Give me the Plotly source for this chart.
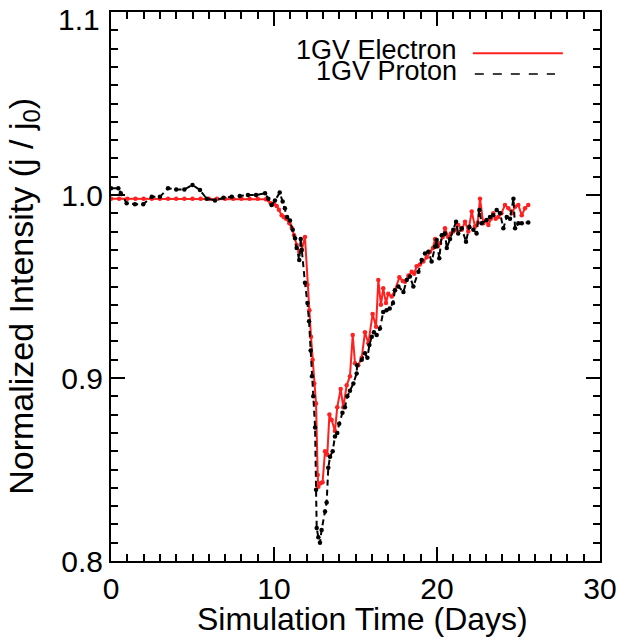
import plotly.graph_objects as go

# ---- data ----
electron_t = [0, 0.5, 1, 1.5, 2, 2.5, 3, 3.5, 4, 4.5, 5, 5.5, 6, 6.5, 7, 7.5, 8, 8.5, 9, 9.5,
              9.8, 10.0, 10.17, 10.3, 10.47, 10.6, 10.74, 10.94, 11.09, 11.23, 11.39, 11.55, 11.7,
              11.9, 12.05, 12.17, 12.27, 12.37, 12.47, 12.58, 12.68, 12.72, 12.86, 12.98, 13.13,
              13.27, 13.4, 13.54, 13.74, 13.88, 14.09, 14.25, 14.46, 14.66, 14.83, 14.97, 15.17,
              15.38, 15.58, 15.79, 16.05, 16.26, 16.4, 16.56, 16.7, 16.87, 17.01, 17.22, 17.42,
              17.69, 17.9, 18.04, 18.25, 18.45, 18.6, 18.75, 18.95, 19.16, 19.37, 19.57, 19.75,
              19.88, 20.05, 20.18, 20.35, 20.49, 20.69, 20.85, 21.0, 21.15, 21.3, 21.52, 21.72,
              21.92, 22.13, 22.33, 22.5, 22.64, 22.84, 23.0, 23.15, 23.3, 23.45, 23.6, 23.76,
              23.95, 24.17, 24.38, 24.59, 24.79, 24.99, 25.2, 25.4, 25.6]
electron_j = [0.998] * 19 + [0.9977,
              0.9955, 0.995, 0.994, 0.992, 0.989, 0.988, 0.987, 0.9845, 0.982, 0.978, 0.9727, 0.969, 0.970,
              0.977, 0.951, 0.937, 0.9226, 0.910, 0.897, 0.886, 0.847, 0.8406, 0.8425, 0.843, 0.860,
              0.858, 0.880, 0.877, 0.871, 0.884, 0.894, 0.884, 0.896, 0.901, 0.9235, 0.908, 0.907,
              0.911, 0.925, 0.919, 0.935, 0.928, 0.9535, 0.940, 0.949, 0.941, 0.946, 0.9445, 0.948,
              0.955, 0.953, 0.9526, 0.956, 0.958, 0.957, 0.961, 0.962, 0.9636, 0.966, 0.969, 0.971,
              0.976, 0.972, 0.9736, 0.977, 0.9818, 0.977, 0.979, 0.980, 0.981, 0.9836, 0.981, 0.9854,
              0.980, 0.991, 0.9827, 0.985, 0.998, 0.9845, 0.986, 0.9836, 0.987, 0.990, 0.987, 0.988,
              0.990, 0.9945, 0.9927, 0.990, 0.9936, 0.9945, 0.989, 0.9927, 0.9945]

proton_t = [0.0, 0.45, 0.6, 0.96, 1.47, 1.98, 2.5, 3.0, 3.5, 4.0, 4.5, 5.0, 5.46, 5.87, 6.38, 6.9,
            7.4, 7.9, 8.4, 8.9, 9.45, 9.65, 9.85, 10.06, 10.35, 10.53, 10.67, 10.8, 10.98, 11.15,
            11.29, 11.39, 11.55, 11.64, 11.7, 11.9, 12.05, 12.15, 12.25, 12.33, 12.41, 12.52, 12.58,
            12.62, 12.72, 12.82, 12.92, 13.13, 13.23, 13.33, 13.44, 13.6, 13.74, 13.88, 14.0, 14.2,
            14.35, 14.5, 14.66, 14.87, 15.07, 15.1, 15.38, 15.58, 15.73, 15.85, 16.0, 16.13, 16.3,
            16.5, 16.7, 16.9, 17.1, 17.3, 17.42, 17.63, 17.94, 18.14, 18.34, 18.55, 18.86, 19.06,
            19.26, 19.47, 19.67, 19.88, 19.98, 20.14, 20.29, 20.49, 20.6, 20.8, 21.0, 21.17, 21.3,
            21.52, 21.78, 21.98, 22.23, 22.43, 22.6, 22.74, 23.05, 23.25, 23.45, 23.66, 23.87,
            24.07, 24.28, 24.48, 24.69, 24.79, 24.99, 25.2, 25.6]
proton_j = [1.0037, 1.0037, 1.001, 0.9955, 0.995, 0.995, 0.999, 0.999, 1.0037, 1.003, 1.003, 1.0055,
            1.0027, 0.998, 0.997, 0.9985, 0.999, 0.9995, 1.0, 1.0, 1.001, 0.998, 0.9945, 0.997,
            1.0013, 0.9964, 0.9927, 0.988, 0.986, 0.981, 0.9763, 0.971, 0.9645, 0.976, 0.970, 0.952,
            0.941, 0.931, 0.915, 0.901, 0.890, 0.873, 0.839, 0.818, 0.813, 0.810, 0.817, 0.827,
            0.832, 0.851, 0.857, 0.860, 0.868, 0.870, 0.875, 0.881, 0.884, 0.890, 0.893, 0.897,
            0.9025, 0.907, 0.910, 0.9135, 0.911, 0.918, 0.9226, 0.925, 0.9235, 0.927, 0.936, 0.937,
            0.938, 0.941, 0.948, 0.950, 0.947, 0.9535, 0.9554, 0.950, 0.958, 0.9645, 0.968, 0.969,
            0.9636, 0.9717, 0.9754, 0.9654, 0.978, 0.979, 0.971, 0.976, 0.981, 0.9854, 0.979,
            0.9818, 0.9745, 0.9827, 0.981, 0.979, 0.9918, 0.9845, 0.9863, 0.988, 0.989, 0.9918,
            0.990, 0.9818, 0.988, 0.987, 0.998, 0.9818, 0.9845, 0.9845, 0.985]

x_ticks = [0, 10, 20, 30]
y_ticks = [0.8, 0.9, 1.0, 1.1]
series_names = ["1GV Electron", "1GV Proton"]
x_title = "Simulation Time (Days)"
y_title = "Normalized Intensity (j / j<sub>0</sub>)"

FONT = "Liberation Sans, Arial, sans-serif"
RED = "#ff2020"

fig = go.Figure()
fig.add_trace(go.Scatter(x=electron_t, y=electron_j, mode="lines+markers", name=series_names[0],
                         line=dict(color=RED, width=2),
                         marker=dict(color=RED, size=4.5), showlegend=False))
fig.add_trace(go.Scatter(x=proton_t, y=proton_j, mode="lines+markers", name=series_names[1],
                         line=dict(color="black", width=2, dash="6px,4px"),
                         marker=dict(color="black", size=4.5), showlegend=False))

# legend (text left of line sample, as in the reference)
fig.add_annotation(xref="paper", yref="paper", x=0.712, y=0.931, text=series_names[0], showarrow=False,
                   xanchor="right", yanchor="middle", font=dict(family=FONT, size=27, color="black"))
fig.add_shape(type="line", xref="paper", yref="paper", x0=0.740, x1=0.924, y0=0.925, y1=0.925,
              line=dict(color=RED, width=2))
fig.add_annotation(xref="paper", yref="paper", x=0.712, y=0.892, text=series_names[1], showarrow=False,
                   xanchor="right", yanchor="middle", font=dict(family=FONT, size=27, color="black"))
fig.add_shape(type="line", xref="paper", yref="paper", x0=0.744, x1=0.908, y0=0.887, y1=0.887,
              line=dict(color="black", width=1.5, dash="dash"))

# axis titles
fig.add_annotation(xref="paper", yref="paper", x=0.515, y=-0.106, text=x_title, showarrow=False,
                   xanchor="center", yanchor="middle", font=dict(family=FONT, size=32, color="black"))
fig.add_annotation(xref="paper", yref="paper", x=-0.178, y=0.483, text=y_title, showarrow=False,
                   textangle=-90, xanchor="center", yanchor="middle",
                   font=dict(family=FONT, size=34, color="black"))

# top y tick label, nudged inside the page as in the reference
y_labels = [f"{v:.1f}" for v in y_ticks]
fig.add_annotation(xref="paper", yref="y", x=-0.018, y=y_ticks[-1], yshift=-7, text=y_labels[-1],
                   showarrow=False, xanchor="right", yanchor="middle",
                   font=dict(family=FONT, size=30, color="black"))

axis_common = dict(showline=True, linecolor="black", linewidth=2, mirror="allticks",
                   ticks="inside", ticklen=14, tickwidth=2, tickcolor="black",
                   showgrid=False, zeroline=False,
                   tickfont=dict(family=FONT, size=30, color="black"))

fig.update_xaxes(range=[0, 30], tickvals=x_ticks, ticktext=[str(v) for v in x_ticks],
                 ticklabeloverflow="allow",
                 minor=dict(ticks="inside", ticklen=7, tickwidth=2, tickcolor="black", dtick=1, tick0=0),
                 **axis_common)
fig.update_yaxes(range=[0.8, 1.1], tickvals=y_ticks, ticktext=y_labels[:-1] + [""],
                 minor=dict(ticks="inside", ticklen=7, tickwidth=2, tickcolor="black", dtick=0.01, tick0=0.8),
                 **axis_common)

fig.update_layout(width=619, height=642, margin=dict(l=111, r=19, t=12, b=81, autoexpand=False),
                  plot_bgcolor="white", paper_bgcolor="white")

fig.write_html("out.html")
